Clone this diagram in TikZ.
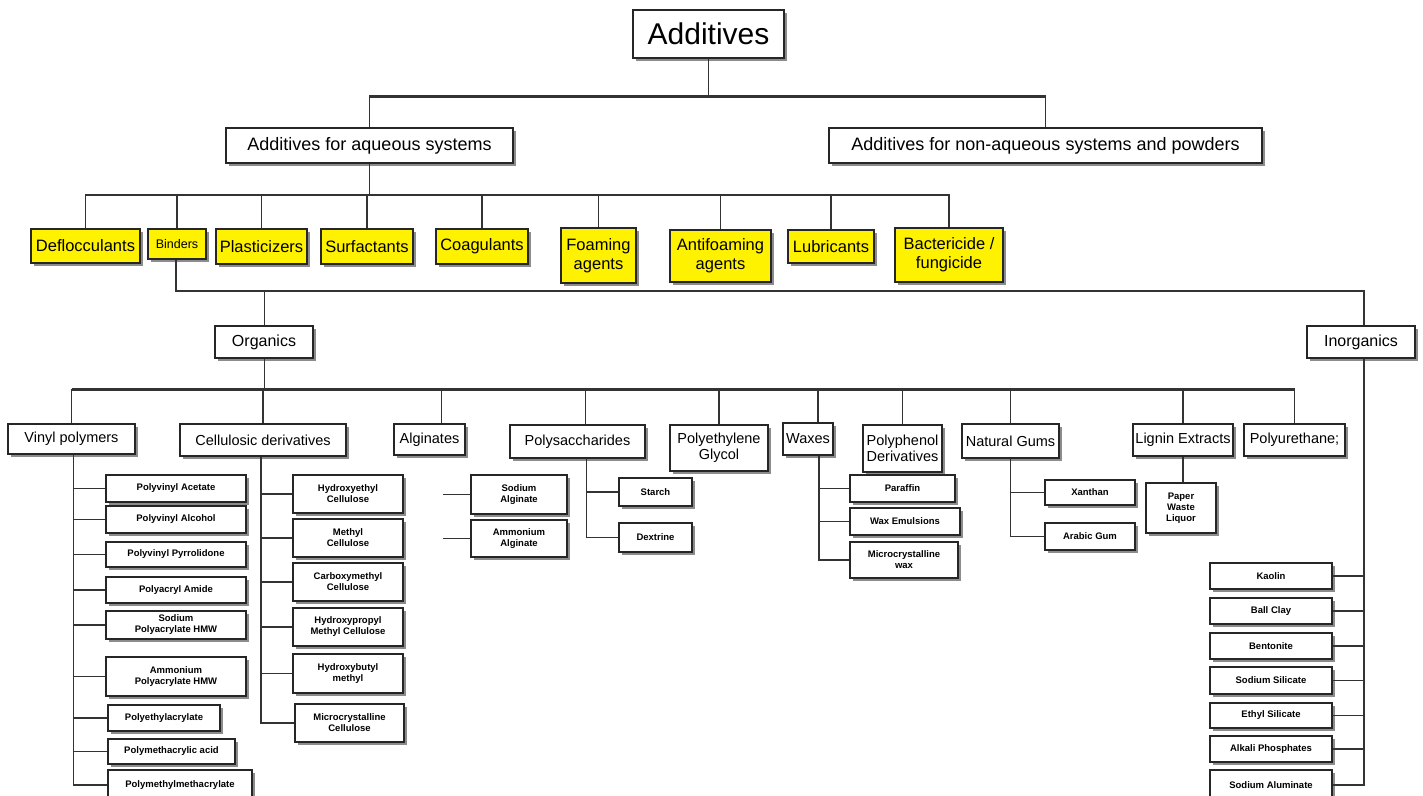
\documentclass[tikz,border=0pt]{standalone}
\usepackage{fontspec}
\setmainfont{Liberation Sans}
\usetikzlibrary{shadows}

\begin{document}
\begin{tikzpicture}[x=1pt,y=-1pt,
        box/.style={draw=black!85,line width=1.3pt,fill=white,inner sep=1pt,align=center,
            drop shadow={shadow xshift=3pt,shadow yshift=-3pt,fill=black!45,opacity=1}},
        wh/.style 2 args={minimum width=#1pt,minimum height=#2pt},
        top/.style={box,font=\fontsize{18}{21}\selectfont},
        ybox/.style={box,fill=yellow,font=\fontsize{16.5}{19}\selectfont},
        mid/.style={box,font=\fontsize{14.5}{16}\selectfont},
        leaf/.style={box,line width=1.1pt,font=\fontsize{9.5}{11}\selectfont\bfseries},
        link/.style={draw=black!80,line width=1.6pt},
        bus/.style={draw=black!80,line width=3pt}]
    \useasboundingbox (0,0) rectangle (1423,795);
    \clip (0,0) rectangle (1423,795);

    % levels of the horizontal bars
    \coordinate (lvA) at (0,96);
    \coordinate (lvB) at (0,195);
    \coordinate (lvC) at (0,291);
    \coordinate (lvD) at (0,389);

    \node[box,wh={151}{48},font=\fontsize{30}{32}\selectfont] (add) at (708.5,34) {Additives};
    \node[top,wh={287}{35}] (aq) at (369.5,145.5) {Additives for aqueous systems};
    \node[top,wh={433}{35}] (naq) at (1045.5,145.5) {Additives for non-aqueous systems and powders};

    % aqueous groups
    \node[ybox,wh={109}{34}] (defl) at (85.5,246) {Deflocculants};
    \node[ybox,wh={58}{30},font=\fontsize{12.5}{14}\selectfont] (bind) at (177,244) {Binders};
    \node[ybox,wh={91}{35}] (plast) at (261.5,246.5) {Plasticizers};
    \node[ybox,wh={92}{35}] (surf) at (367,246.5) {Surfactants};
    \node[ybox,wh={92}{35}] (coag) at (482,246.5) {Coagulants};
    \node[ybox,wh={75}{55}] (foam) at (598.5,255.5) {Foaming\\agents};
    \node[ybox,wh={101}{52}] (antif) at (720.5,256) {Antifoaming\\agents};
    \node[ybox,wh={86}{33}] (lubr) at (831,246.5) {Lubricants};
    \node[ybox,wh={108}{54}] (bact) at (949,255) {Bactericide /\\fungicide};

    \node[top,wh={98}{32},font=\fontsize{16}{18}\selectfont] (org) at (264,342) {Organics};
    \node[top,wh={108}{32},font=\fontsize{16}{18}\selectfont] (inorg) at (1361,342) {Inorganics};

    % organic binders
    \node[mid,wh={127}{30}] (vinyl) at (71.5,439) {Vinyl polymers};
    \node[mid,wh={166}{32}] (cell) at (263,440) {Cellulosic derivatives};
    \node[mid,wh={71}{31}] (algi) at (429.5,439.5) {Alginates};
    \node[mid,wh={135}{33}] (polys) at (577.5,441.5) {Polysaccharides};
    \node[mid,wh={98}{46}] (peg) at (719,448) {Polyethylene\\Glycol};
    \node[mid,wh={50}{32}] (wax) at (808,439) {Waxes};
    \node[mid,wh={79}{47}] (pphen) at (902.5,448.5) {Polyphenol\\Derivatives};
    \node[mid,wh={97}{34}] (gums) at (1010.5,441) {Natural Gums};
    \node[mid,wh={100}{32}] (lign) at (1183,440) {Lignin Extracts};
    \node[mid,wh={101}{32}] (pu) at (1294.5,440) {Polyurethane;};

    % vinyl polymers
    \node[leaf,wh={140}{27}] (pvac) at (176,488.5) {Polyvinyl Acetate};
    \node[leaf,wh={140}{27}] (pvoh) at (176,519.5) {Polyvinyl Alcohol};
    \node[leaf,wh={140}{25}] (pvp) at (176,554.5) {Polyvinyl Pyrrolidone};
    \node[leaf,wh={140}{26}] (pam) at (176,590) {Polyacryl Amide};
    \node[leaf,wh={140}{28}] (spa) at (176,625) {Sodium\\Polyacrylate HMW};
    \node[leaf,wh={140}{39}] (apa) at (176,676.5) {Ammonium\\Polyacrylate HMW};
    \node[leaf,wh={112}{26}] (pea) at (164,718) {Polyethylacrylate};
    \node[leaf,wh={127}{25}] (pmaa) at (171.5,751.5) {Polymethacrylic acid};
    \node[leaf,wh={144}{30}] (pmma) at (180,785) {Polymethylmethacrylate};

    % cellulosic derivatives
    \node[leaf,wh={110}{38}] (hec) at (348,494) {Hydroxyethyl\\Cellulose};
    \node[leaf,wh={110}{38}] (mc) at (348,538) {Methyl\\Cellulose};
    \node[leaf,wh={110}{38}] (cmc) at (348,582) {Carboxymethyl\\Cellulose};
    \node[leaf,wh={110}{38}] (hpmc) at (348,627) {Hydroxypropyl\\Methyl Cellulose};
    \node[leaf,wh={110}{39}] (hbm) at (348,673.5) {Hydroxybutyl\\methyl};
    \node[leaf,wh={109}{38}] (mcc) at (349.5,723) {Microcrystalline\\Cellulose};

    % alginates, polysaccharides
    \node[leaf,wh={96}{39}] (salg) at (519,494.5) {Sodium\\Alginate};
    \node[leaf,wh={96}{37}] (aalg) at (519,538.5) {Ammonium\\Alginate};
    \node[leaf,wh={73}{28}] (starch) at (655.5,492) {Starch};
    \node[leaf,wh={73}{29}] (dext) at (655.5,537.5) {Dextrine};

    % waxes, gums, lignin
    \node[leaf,wh={105}{27}] (paraf) at (902.5,488.5) {Paraffin};
    \node[leaf,wh={110}{27}] (wemul) at (905,521.5) {Wax Emulsions};
    \node[leaf,wh={108}{36}] (mcw) at (904,560) {Microcrystalline\\wax};
    \node[leaf,wh={90}{25}] (xanth) at (1090,492.5) {Xanthan};
    \node[leaf,wh={90}{27}] (arab) at (1090,536.5) {Arabic Gum};
    \node[leaf,wh={70}{50}] (pwl) at (1181,508) {Paper\\Waste\\Liquor};

    % inorganics
    \node[leaf,wh={122}{26}] (kaol) at (1271,576) {Kaolin};
    \node[leaf,wh={122}{26}] (ball) at (1271,611) {Ball Clay};
    \node[leaf,wh={122}{26}] (bent) at (1271,646) {Bentonite};
    \node[leaf,wh={122}{27}] (ssil) at (1271,680.5) {Sodium Silicate};
    \node[leaf,wh={122}{25}] (esil) at (1271,715.5) {Ethyl Silicate};
    \node[leaf,wh={122}{26}] (alkp) at (1271,749) {Alkali Phosphates};
    \node[leaf,wh={122}{30}] (salu) at (1271,785) {Sodium Aluminate};

    % top of the tree
    \draw[link,line width=1pt] (add.south) -- (add.south |- lvA);
    \draw[link] (aq.north) |- (naq.north |- lvA) -- (naq.north);
    \draw[bus] (aq.north |- lvA) -- (naq.north |- lvA);
    \draw[link,line width=1.2pt] (aq.south) -- (aq.south |- lvB);
    \draw[link,line width=1.2pt] (defl.north) |- (bact.north |- lvB) -- (bact.north);
    \foreach \n in {bind,plast,surf,coag,foam,antif,lubr}
        \draw[link,line width=1.2pt] (\n.north) -- (\n.north |- lvB);

    % binders
    \coordinate (isp) at ([xshift=3pt]inorg.south);
    \draw[link] ([xshift=-1pt]bind.south) |- ([xshift=3pt]inorg.north |- lvC) -- ([xshift=3pt]inorg.north);
    \draw[link,line width=1pt] (org.north) -- (org.north |- lvC);
    \draw[link,line width=1pt] (org.south) -- (org.south |- lvD);
    \draw[bus] (vinyl.north |- lvD) -- (pu.north |- lvD);
    \foreach \n/\s in {vinyl/0,cell/0,algi/12,polys/8,peg/0,wax/10,pphen/0,gums/0,lign/0,pu/0}
        \draw[link] ([xshift=\s pt]\n.north) -- ([xshift=\s pt]\n.north |- lvD);

    % vinyl polymers
    \coordinate (vsp) at ([xshift=2pt]vinyl.south);
    \draw[link] (vsp) |- (pmma.west);
    \foreach \n in {pvac,pvoh,pvp,pam,spa,apa,pea,pmaa}
        \draw[link] (\n.west) -- (\n.west -| vsp);

    % cellulosic derivatives
    \coordinate (csp) at ([xshift=-2pt]cell.south);
    \draw[link,line width=2.2pt] (csp) |- (mcc.west);
    \foreach \n in {hec,mc,cmc,hpmc,hbm}
        \draw[link] (\n.west) -- (\n.west -| csp);

    % alginates and polysaccharides
    \coordinate (astub) at (443,497);
    \foreach \n in {salg,aalg}
        \draw[link] (\n.west) -- (\n.west -| astub);
    \coordinate (psp) at ([xshift=9pt]polys.south);
    \draw[link] (psp) |- (dext.west);
    \draw[link] (starch.west) -- (starch.west -| psp);

    % waxes, gums, lignin
    \coordinate (wsp) at ([xshift=11pt]wax.south);
    \draw[link] (wsp) |- (mcw.west);
    \foreach \n in {paraf,wemul}
        \draw[link] (\n.west) -- (\n.west -| wsp);
    \draw[link] (gums.south) |- (arab.west);
    \draw[link] (xanth.west) -- (xanth.west -| gums.south);
    \draw[link] (lign.south) -- (lign.south |- pwl.north);

    % inorganics
    \draw[link] (isp) |- (salu.east);
    \foreach \n in {kaol,ball,bent,ssil,esil,alkp}
        \draw[link] (\n.east) -- (\n.east -| isp);
\end{tikzpicture}
\end{document}
